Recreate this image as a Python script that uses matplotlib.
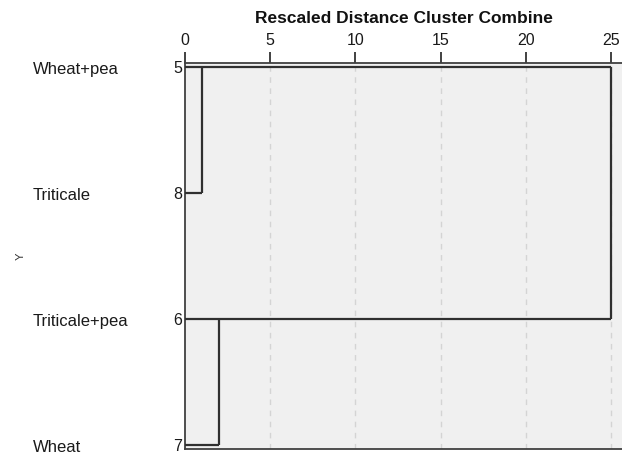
import matplotlib
matplotlib.use("Agg")
import matplotlib.pyplot as plt
from matplotlib.transforms import blended_transform_factory

# ---- data ----
leaf_names = ["Wheat+pea", "Triticale", "Triticale+pea", "Wheat"]
leaf_ids = ["5", "8", "6", "7"]
# merges: (cluster a, cluster b, rescaled distance)
merge_a = [0, 2, 0]
merge_b = [1, 3, 2]
merge_h = [1.0, 2.0, 25.0]
x_ticks = [0, 5, 10, 15, 20, 25]
title = "Rescaled Distance Cluster Combine"
ylabel = "Y"

plt.rcParams["font.family"] = ["Liberation Sans", "DejaVu Sans"]

fig = plt.figure(figsize=(6.22, 4.57), dpi=100)
L, R, T, B = 185 / 622, 1.0, 1 - 63 / 457, 1 - 449 / 457
ax = fig.add_axes([L, B, R - L, T - B])
ax.set_facecolor("#f0f0f0")

n = len(leaf_names)
ypos = list(range(n))
ax.set_xlim(0, 25.65)
ax.set_ylim(n - 1 + 0.03, -0.03)

# grid
for xt in x_ticks[1:]:
    ax.axvline(xt, color="#d4d4d4", lw=1.0, ls=(0, (4, 4)), zorder=1)

line_kw = dict(color="#303030", lw=1.6, solid_capstyle="butt", zorder=3)

cur_x = {i: 0.0 for i in range(n)}
for a, b, h in zip(merge_a, merge_b, merge_h):
    ya, yb = ypos[a], ypos[b]
    ax.plot([cur_x[a], h], [ya, ya], **line_kw)
    ax.plot([cur_x[b], h], [yb, yb], **line_kw)
    ax.plot([h, h], [ya, yb], **line_kw)
    cur_x[a] = h

# axes styling
ax.xaxis.tick_top()
ax.set_xticks(x_ticks)
ax.set_xticklabels([str(t) for t in x_ticks])
ax.tick_params(axis="x", direction="out", length=8, width=1.3, color="#333333",
               labelsize=11.5, pad=2.5, labelcolor="#1a1a1a")
ax.set_yticks(ypos)
ax.set_yticklabels(leaf_ids)
ax.tick_params(axis="y", length=0, pad=2, labelsize=11.5, labelcolor="#1a1a1a")
for s in ["top", "left", "bottom"]:
    ax.spines[s].set_color("#404040")
    ax.spines[s].set_linewidth(1.3)
ax.spines["right"].set_visible(False)

ax.set_title(title, fontsize=12.5, fontweight="bold", pad=29, color="#111111")

trans = blended_transform_factory(fig.transFigure, ax.transData)
for yp, name in zip(ypos, leaf_names):
    ax.text(33 / 622, yp + 0.02, name, transform=trans, ha="left", va="center",
            fontsize=12, color="#1a1a1a")

fig.text(21 / 622, 1 - 256 / 457, ylabel, rotation=90, ha="center", va="center",
         fontsize=8, color="#333333")

fig.savefig("out.png", dpi=100)
